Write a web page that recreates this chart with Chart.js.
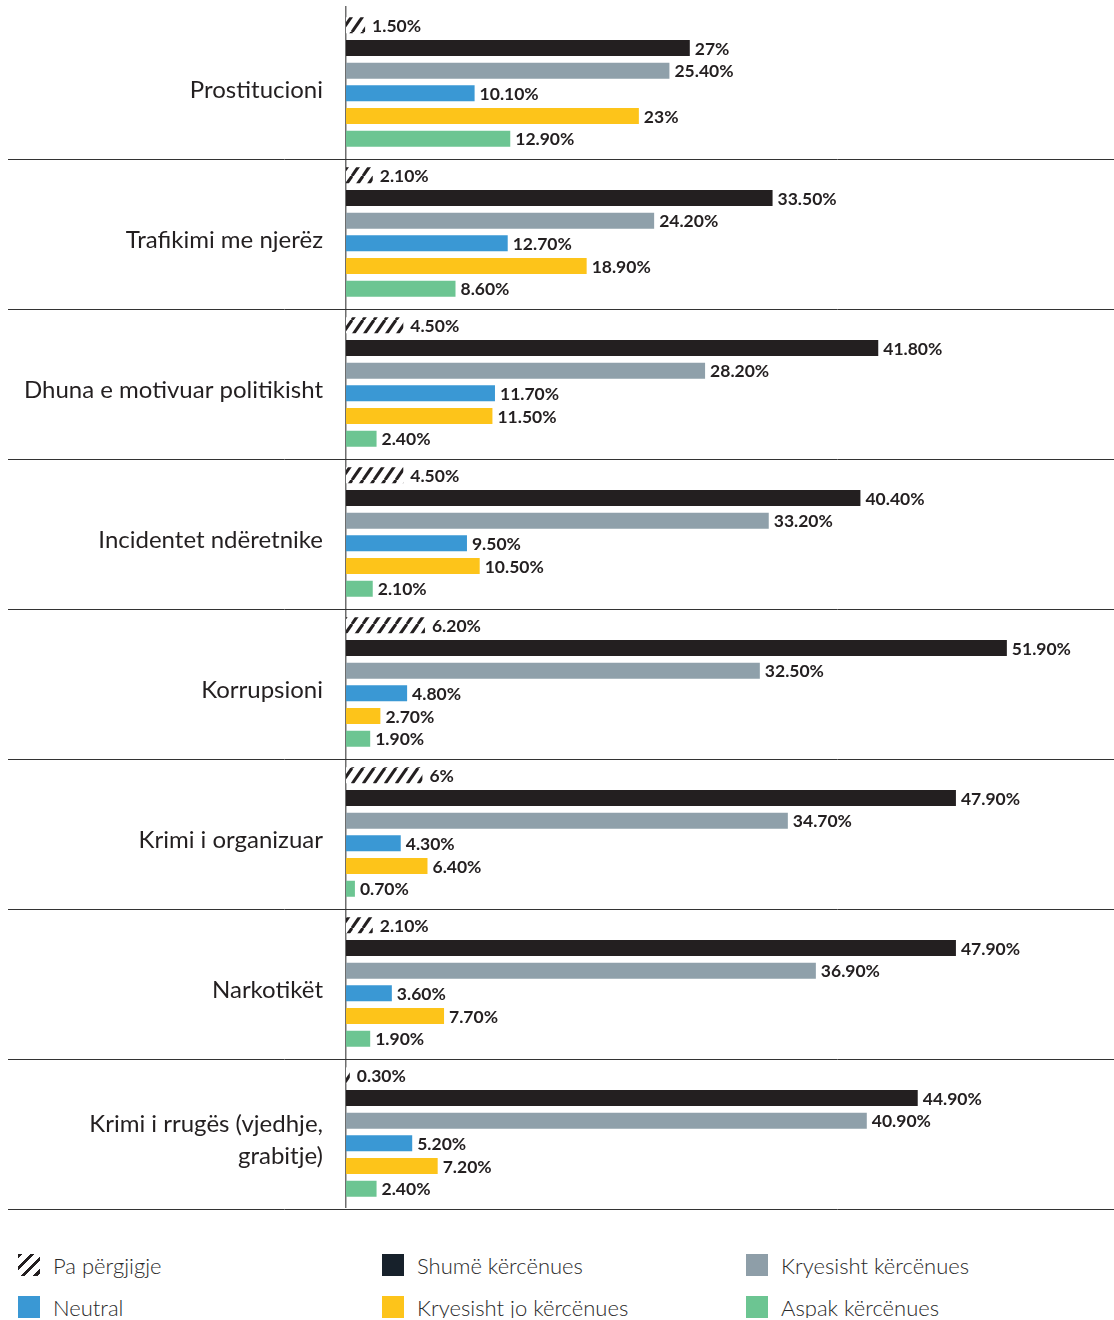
<!DOCTYPE html>
<html lang="sq">
<head>
    <meta charset="UTF-8">
    <title>Perceptimi i kërcënimeve</title>
    <style>
        body {
            margin: 0;
            background: #ffffff;
            font-family: Lato, 'Open Sans', sans-serif;
        }
        .chart-wrap {
            position: relative;
            width: 1114px;
            height: 1212px;
        }
        .legend {
            display: grid;
            grid-template-columns: 364px 364px 364px;
            row-gap: 20px;
            padding: 42px 0 0 18px;
        }
        .legend-item {
            display: flex;
            align-items: center;
            font-size: 22px;
            font-weight: 300;
            color: #2a2a2a;
            height: 22px;
        }
        .swatch {
            width: 22px;
            height: 22px;
            margin-right: 13px;
            flex: none;
        }
        .hatch {
            background: repeating-linear-gradient(135deg, #231f20 0 3.5px, #ffffff 3.5px 8.5px);
        }
    </style>
</head>
<body>
    <div class="chart-wrap">
        <canvas id="chart"></canvas>
    </div>
    <div class="legend" id="legend"></div>

    <script src="https://cdn.jsdelivr.net/npm/chart.js@4.4.1/dist/chart.umd.min.js"></script>
    <script>
        const categories = [
            'Prostitucioni',
            'Trafikimi me njerëz',
            'Dhuna e motivuar politikisht',
            'Incidentet ndëretnike',
            'Korrupsioni',
            'Krimi i organizuar',
            'Narkotikët',
            ['Krimi i rrugës (vjedhje,', 'grabitje)']
        ];
        const seriesNames = ['Pa përgjigje', 'Shumë kërcënues', 'Kryesisht kërcënues',
            'Neutral', 'Kryesisht jo kërcënues', 'Aspak kërcënues'];

        const paPergjigje = [1.5, 2.1, 4.5, 4.5, 6.2, 6, 2.1, 0.3];
        const shumeKercenues = [27, 33.5, 41.8, 40.4, 51.9, 47.9, 47.9, 44.9];
        const kryesishtKercenues = [25.4, 24.2, 28.2, 33.2, 32.5, 34.7, 36.9, 40.9];
        const neutral = [10.1, 12.7, 11.7, 9.5, 4.8, 4.3, 3.6, 5.2];
        const kryesishtJo = [23, 18.9, 11.5, 10.5, 2.7, 6.4, 7.7, 7.2];
        const aspak = [12.9, 8.6, 2.4, 2.1, 1.9, 0.7, 1.9, 2.4];

        const seriesColors = ['hatch', '#231f20', '#8fa0aa', '#3a98d4', '#fdc41a', '#6cc592'];
        const legendColors = ['hatch', '#17212b', '#8e9ea8', '#3a98d4', '#fdc41a', '#6cc592'];

        const canvas = document.getElementById('chart');
        const ctx = canvas.getContext('2d');

        // diagonal stripes for the "no answer" bars
        function makeHatch() {
            const tile = document.createElement('canvas');
            tile.width = 11;
            tile.height = 16;
            const g = tile.getContext('2d');
            g.fillStyle = '#ffffff';
            g.fillRect(0, 0, 11, 16);
            g.strokeStyle = '#231f20';
            g.lineWidth = 3;
            [-11, 0, 11].forEach(dx => {
                g.beginPath();
                g.moveTo(dx, 16);
                g.lineTo(dx + 11, 0);
                g.stroke();
            });
            return ctx.createPattern(tile, 'repeat');
        }
        const hatch = makeHatch();

        function fmt(v) {
            return Number.isInteger(v) ? v + '%' : v.toFixed(2) + '%';
        }

        const valueLabels = {
            id: 'valueLabels',
            afterDatasetsDraw(chart) {
                const c = chart.ctx;
                c.save();
                c.font = '700 17.5px Lato';
                c.fillStyle = '#231f20';
                c.textBaseline = 'middle';
                chart.data.datasets.forEach((ds, i) => {
                    chart.getDatasetMeta(i).data.forEach((bar, j) => {
                        c.fillText(fmt(ds.data[j]), bar.x + (i === 0 ? 7 : 5), bar.y + 1);
                    });
                });
                c.restore();
            }
        };

        // separators between categories, running into the label area
        const rowLines = {
            id: 'rowLines',
            afterDraw(chart) {
                const y = chart.scales.y;
                const c = chart.ctx;
                const n = chart.data.labels.length;
                c.save();
                c.strokeStyle = '#333333';
                c.lineWidth = 1;
                for (let i = 0; i < n; i++) {
                    let py = i < n - 1
                        ? (y.getPixelForValue(i) + y.getPixelForValue(i + 1)) / 2
                        : chart.chartArea.bottom;
                    py = Math.round(py + 2) + 0.5;
                    c.beginPath();
                    c.moveTo(8, py);
                    c.lineTo(chart.width, py);
                    c.stroke();
                }
                c.restore();
            }
        };

        const allData = [paPergjigje, shumeKercenues, kryesishtKercenues, neutral, kryesishtJo, aspak];

        new Chart(canvas, {
            type: 'bar',
            data: {
                labels: categories,
                datasets: allData.map((d, i) => ({
                    label: seriesNames[i],
                    data: d,
                    backgroundColor: seriesColors[i] === 'hatch' ? hatch : seriesColors[i],
                    borderWidth: 0,
                    categoryPercentage: 0.908,
                    barPercentage: 0.705
                }))
            },
            options: {
                indexAxis: 'y',
                responsive: true,
                maintainAspectRatio: false,
                animation: false,
                layout: {
                    padding: { top: 7, bottom: 5, right: 4, left: 0 }
                },
                scales: {
                    x: {
                        display: false,
                        min: 0,
                        max: 60
                    },
                    y: {
                        afterFit(scale) {
                            scale.width = 346;
                            scale.paddingTop = 0;
                            scale.paddingBottom = 0;
                        },
                        grid: { display: false, drawTicks: false },
                        border: { display: true, color: '#6e6e6e', width: 1.5 },
                        ticks: {
                            color: '#231f20',
                            padding: 23,
                            labelOffset: 8,
                            font: { family: 'Lato', size: 24, lineHeight: 1.35 }
                        }
                    }
                },
                plugins: {
                    legend: { display: false },
                    tooltip: { enabled: false }
                }
            },
            plugins: [valueLabels, rowLines]
        });

        // html legend, 3 columns x 2 rows
        const legend = document.getElementById('legend');
        seriesNames.forEach((name, i) => {
            const item = document.createElement('div');
            item.className = 'legend-item';
            const sw = document.createElement('span');
            sw.className = 'swatch';
            if (legendColors[i] === 'hatch') {
                sw.classList.add('hatch');
            } else {
                sw.style.background = legendColors[i];
            }
            item.appendChild(sw);
            item.appendChild(document.createTextNode(name));
            legend.appendChild(item);
        });
    </script>
</body>
</html>
